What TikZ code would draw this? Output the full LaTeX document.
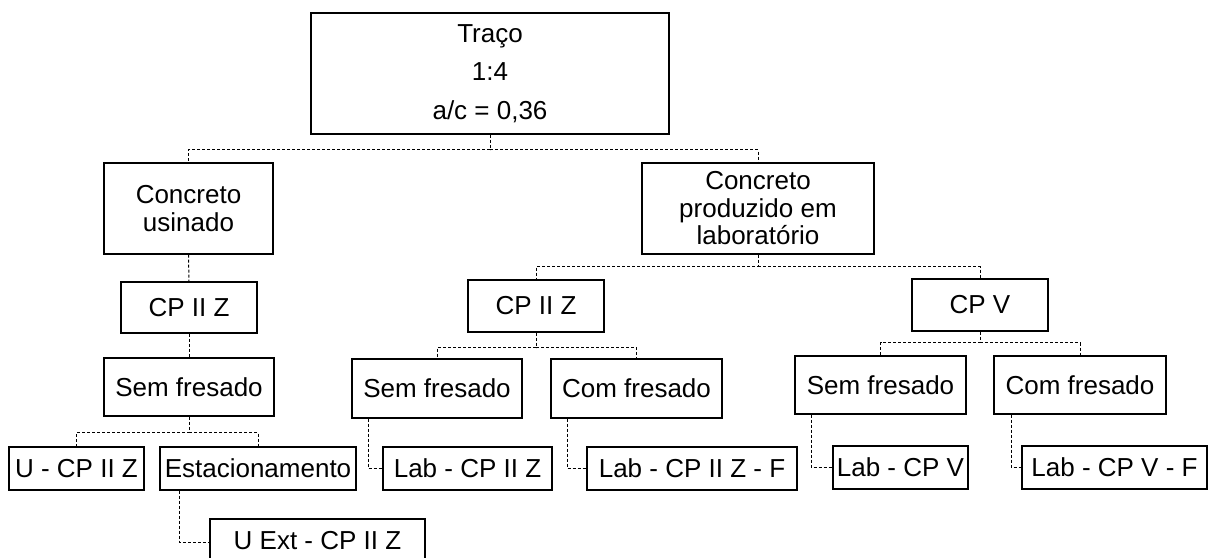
\documentclass[tikz,border=0pt]{standalone}
\usepackage{fontspec}
\setmainfont{Liberation Sans}
\begin{document}
\begin{tikzpicture}[x=1pt,y=-1pt,
  box/.style={draw=black, line width=1.3pt, inner sep=0pt, align=center,
    font=\fontsize{26}{28}\selectfont, text=black},
  conn/.style={draw=black, line width=1pt, dash pattern=on 3pt off 2pt}]
\useasboundingbox (0,0) rectangle (1209,557);
% nodes
\node[box, minimum width=358pt, minimum height=121pt, font=\fontsize{26}{38.5}\selectfont] (traco) at (490,73.5) {Traço\\1:4\\a/c = 0,36};
\node[box, minimum width=169pt, minimum height=91pt] (cu) at (188.5,208.5) {Concreto\\usinado};
\node[box, minimum width=232pt, minimum height=91pt, font=\fontsize{26}{27.5}\selectfont] (cl) at (758,208.5) {Concreto\\produzido em\\laboratório};
\node[box, minimum width=136pt, minimum height=51pt] (cp1) at (189,307.5) {CP II Z};
\node[box, minimum width=136pt, minimum height=52pt] (cp2) at (536,306) {CP II Z};
\node[box, minimum width=136pt, minimum height=52pt] (cp5) at (980,305) {CP V};
\node[box, minimum width=170pt, minimum height=58pt] (sf1) at (189,387) {Sem fresado};
\node[box, minimum width=170pt, minimum height=59pt] (sf2) at (437,388.5) {Sem fresado};
\node[box, minimum width=171pt, minimum height=59pt] (cf2) at (636.5,388.5) {Com fresado};
\node[box, minimum width=171pt, minimum height=58pt] (sf5) at (880.5,385) {Sem fresado};
\node[box, minimum width=172pt, minimum height=58pt] (cf5) at (1080,385) {Com fresado};
\node[box, minimum width=135pt, minimum height=43pt] (u) at (76.5,468.5) {U - CP II Z};
\node[box, minimum width=196pt, minimum height=43pt] (est) at (258,468.5) {Estacionamento};
\node[box, minimum width=215pt, minimum height=43pt] (uext) at (317.5,540.5) {U Ext - CP II Z};
\node[box, minimum width=169pt, minimum height=43pt] (lab1) at (467.5,468.5) {Lab - CP II Z};
\node[box, minimum width=210pt, minimum height=43pt] (lab1f) at (692,468.5) {Lab - CP II Z - F};
\node[box, minimum width=135pt, minimum height=43pt] (lab5) at (900.5,467.5) {Lab - CP V};
\node[box, minimum width=185pt, minimum height=43pt] (lab5f) at (1114.5,467.5) {Lab - CP V - F};
% connectors
\draw[conn] (traco.south) -- ++(0,15) coordinate (j0) -| (cu.north);
\draw[conn] (j0) -| (cl.north);
\draw[conn] (cu.south) -- (cp1.north);
\draw[conn] (cl.south) -- ++(0,12) coordinate (j1) -| (cp2.north);
\draw[conn] (j1) -| (cp5.north);
\draw[conn] (cp1.south) -- (sf1.north);
\draw[conn] (cp2.south) -- ++(0,15) coordinate (j2) -| (sf2.north);
\draw[conn] (j2) -| (cf2.north);
\draw[conn] (cp5.south) -- ++(0,11) coordinate (j5) -| (sf5.north);
\draw[conn] (j5) -| (cf5.north);
\draw[conn] (sf1.south) -- ++(0,16) coordinate (js) -| (u.north);
\draw[conn] (js) -| (est.north);
\draw[conn] ([xshift=20pt]est.south west) |- ([yshift=-1.5pt]uext.west);
\draw[conn] ([xshift=17pt]sf2.south west) |- (lab1.west);
\draw[conn] ([xshift=17pt]cf2.south west) |- (lab1f.west);
\draw[conn] ([xshift=17pt]sf5.south west) |- (lab5.west);
\draw[conn] ([xshift=18pt]cf5.south west) |- (lab5f.west);
\end{tikzpicture}
\end{document}
